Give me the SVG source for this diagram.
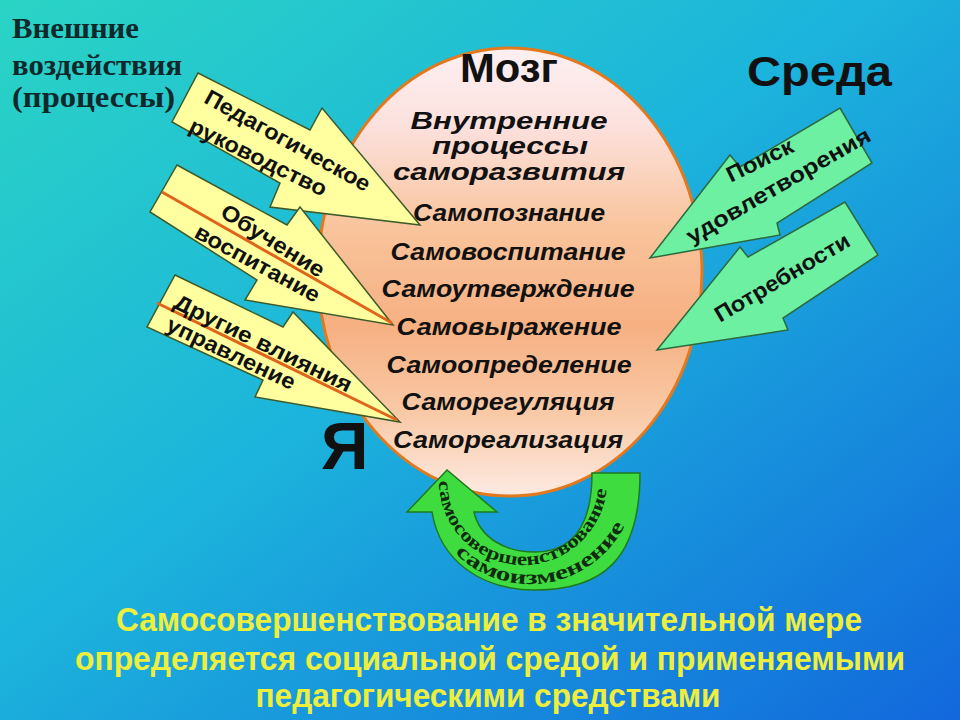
<svg xmlns="http://www.w3.org/2000/svg" width="960" height="720" viewBox="0 0 960 720">
  <defs>
    <linearGradient id="bg" x1="0" y1="0" x2="1" y2="1">
      <stop offset="0" stop-color="#2ad4c4"/>
      <stop offset="0.45" stop-color="#1cb4dc"/>
      <stop offset="1" stop-color="#1268dc"/>
    </linearGradient>
    <linearGradient id="egg" x1="0" y1="0" x2="0" y2="1">
      <stop offset="0" stop-color="#fdf0f2"/>
      <stop offset="0.18" stop-color="#fce0dc"/>
      <stop offset="0.4" stop-color="#f9c49c"/>
      <stop offset="0.62" stop-color="#f6b082"/>
      <stop offset="0.82" stop-color="#f9caa8"/>
      <stop offset="1" stop-color="#fdeae2"/>
    </linearGradient>
    <path id="arcInner" d="M439,481 A84,84 0 0 0 607,481"/>
    <path id="arcOuter" d="M455,553 A106,106 0 0 0 628,518"/>
  </defs>
  <style>
    .s { font-family: "Liberation Sans", Arial, sans-serif; font-weight: bold; fill: #111; }
    .i { font-style: italic; }
    .serif { font-family: "Liberation Serif", "Times New Roman", serif; font-weight: bold; }
    .ttl { fill: #10282a; font-size: 30px; }
    .ya { fill: #ffffa0; stroke: #3d5a2a; stroke-width: 1.5; }
    .ga { fill: #6ef0a2; stroke: #2a6a3e; stroke-width: 1.5; }
    .ol { stroke: #e0641a; stroke-width: 3; fill: none; }
    .lab { font-size: 22px; }
    .bot { font-family: "Liberation Sans", Arial, sans-serif; font-weight: bold; fill: #eeee3c; font-size: 33px; }
  </style>

  <rect x="0" y="0" width="960" height="720" fill="url(#bg)"/>

  <g id="title-left">
    <text class="serif ttl" x="12" y="38" textLength="127" lengthAdjust="spacingAndGlyphs">Внешние</text>
    <text class="serif ttl" x="12" y="75" textLength="170" lengthAdjust="spacingAndGlyphs">воздействия</text>
    <text class="serif ttl" x="12" y="107" textLength="163" lengthAdjust="spacingAndGlyphs">(процессы)</text>
  </g>

  <g id="title-sreda">
    <text class="s" font-size="42" x="747" y="86" textLength="145" lengthAdjust="spacingAndGlyphs">Среда</text>
  </g>

  <g id="node-brain">
    <ellipse cx="510" cy="272" rx="192" ry="224" fill="url(#egg)" stroke="#e4781c" stroke-width="3"/>
  </g>

  <g id="connectors">
    <g id="node-ped">
      <polygon class="ya" points="198,73 310,130 322,108 420,225 270,207 280,183 172,122"/>
      <text class="s lab" text-anchor="middle" transform="translate(284,147) rotate(29)" textLength="186" lengthAdjust="spacingAndGlyphs">Педагогическое</text>
      <text class="s lab" text-anchor="middle" transform="translate(255,164) rotate(26)" textLength="150" lengthAdjust="spacingAndGlyphs">руководство</text>
    </g>
    <g id="node-obuch">
      <polygon class="ya" points="177,165 287,225 300,207 393,325 245,300 257,280 150,212"/>
      <line class="ol" x1="162" y1="192" x2="392" y2="323"/>
      <text class="s lab" text-anchor="middle" transform="translate(269,247) rotate(32)" textLength="118" lengthAdjust="spacingAndGlyphs">Обучение</text>
      <text class="s lab" text-anchor="middle" transform="translate(254,270) rotate(28.5)" textLength="139" lengthAdjust="spacingAndGlyphs">воспитание</text>
    </g>
    <g id="node-drugie">
      <polygon class="ya" points="175,275 283,327 293,312 400,422 255,397 263,380 147,327"/>
      <line class="ol" x1="157" y1="303" x2="397" y2="420"/>
      <text class="s lab" text-anchor="middle" transform="translate(260,350) rotate(26)" textLength="195" lengthAdjust="spacingAndGlyphs">Другие влияния</text>
      <text class="s lab" text-anchor="middle" transform="translate(228,360) rotate(25.5)" textLength="140" lengthAdjust="spacingAndGlyphs">управление</text>
    </g>
    <g id="node-poisk">
      <polygon class="ga" points="840,108 872,163 777,223 780,235 650,258 730,155 740,167"/>
      <text class="s lab" text-anchor="middle" transform="translate(763,167) rotate(-26)" textLength="72" lengthAdjust="spacingAndGlyphs">Поиск</text>
      <text class="s lab" text-anchor="middle" transform="translate(782,192) rotate(-30)" textLength="209" lengthAdjust="spacingAndGlyphs">удовлетворения</text>
    </g>
    <g id="node-potreb">
      <polygon class="ga" points="845,202 878,255 783,318 788,330 657,350 740,247 748,257"/>
      <text class="s lab" text-anchor="middle" transform="translate(786,284) rotate(-30.5)" textLength="153" lengthAdjust="spacingAndGlyphs">Потребности</text>
    </g>
    <g id="node-cycle">
      <path d="M592,473 L640,473 C640,560 602,590 535,590 C480,590 440,560 432,512 L407,512 L447,470 L497,512 L474,512 C480,538 505,552 535,552 C570,552 592,530 592,473 Z" fill="#3fdc3f" stroke="#1f7a1f" stroke-width="1.5"/>
      <text class="serif" font-size="18" fill="#0f2a0f"><textPath href="#arcInner" textLength="255" lengthAdjust="spacingAndGlyphs">самосовершенствование</textPath></text>
      <text class="serif" font-size="20" fill="#0f2a0f"><textPath href="#arcOuter" textLength="200" lengthAdjust="spacingAndGlyphs">самоизменение</textPath></text>
    </g>
  </g>

  <g id="node-brain-text" text-anchor="middle">
    <text class="s" font-size="40" x="509" y="82" textLength="98" lengthAdjust="spacingAndGlyphs">Мозг</text>
    <text class="s i" font-size="24" x="509" y="129" textLength="197" lengthAdjust="spacingAndGlyphs">Внутренние</text>
    <text class="s i" font-size="24" x="510" y="154" textLength="156" lengthAdjust="spacingAndGlyphs">процессы</text>
    <text class="s i" font-size="24" x="509" y="180" textLength="232" lengthAdjust="spacingAndGlyphs">саморазвития</text>
    <text class="s i" font-size="24" x="509" y="221" textLength="192" lengthAdjust="spacingAndGlyphs">Самопознание</text>
    <text class="s i" font-size="24" x="508" y="260" textLength="235" lengthAdjust="spacingAndGlyphs">Самовоспитание</text>
    <text class="s i" font-size="24" x="508" y="297" textLength="253" lengthAdjust="spacingAndGlyphs">Самоутверждение</text>
    <text class="s i" font-size="24" x="509" y="335" textLength="225" lengthAdjust="spacingAndGlyphs">Самовыражение</text>
    <text class="s i" font-size="24" x="509" y="373" textLength="245" lengthAdjust="spacingAndGlyphs">Самоопределение</text>
    <text class="s i" font-size="24" x="508" y="410" textLength="213" lengthAdjust="spacingAndGlyphs">Саморегуляция</text>
    <text class="s i" font-size="24" x="508" y="448" textLength="230" lengthAdjust="spacingAndGlyphs">Самореализация</text>
  </g>

  <g id="node-ya">
    <text class="s" font-size="66" x="321" y="469">Я</text>
  </g>

  <g id="caption" text-anchor="middle">
    <text class="bot" x="489" y="631" textLength="746" lengthAdjust="spacingAndGlyphs">Самосовершенствование в значительной мере</text>
    <text class="bot" x="490" y="670" textLength="830" lengthAdjust="spacingAndGlyphs">определяется социальной средой и применяемыми</text>
    <text class="bot" x="488" y="707" textLength="465" lengthAdjust="spacingAndGlyphs">педагогическими средствами</text>
  </g>
</svg>
